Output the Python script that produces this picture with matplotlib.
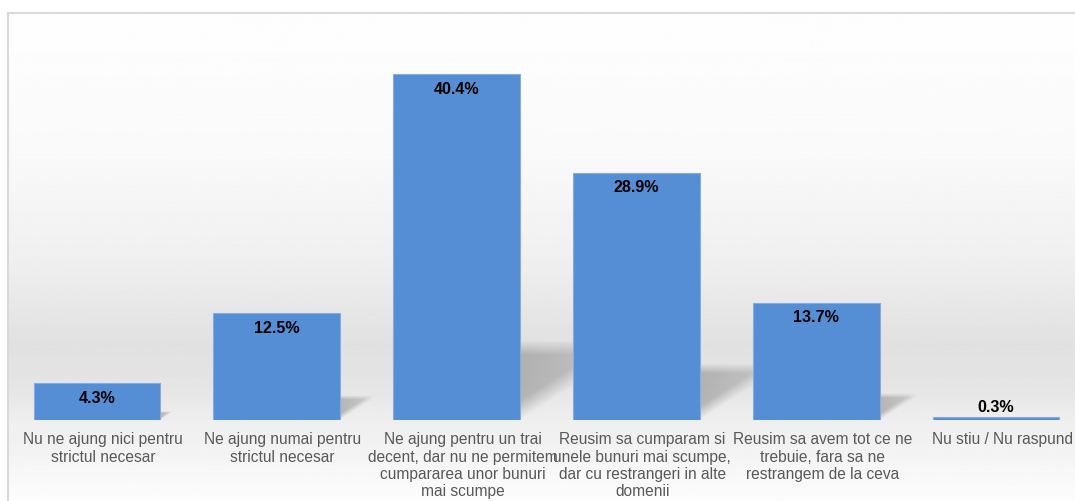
import matplotlib.pyplot as plt
import matplotlib.transforms as mtransforms
import numpy as np
from matplotlib.patches import Polygon
from matplotlib.lines import Line2D

# -----------------------------
#  Data
# -----------------------------
categories = [
    "Nu ne ajung nici pentru\nstrictul necesar",
    "Ne ajung numai pentru\nstrictul necesar",
    "Ne ajung pentru un trai\ndecent, dar nu ne permitem\ncumpararea unor bunuri\nmai scumpe",
    "Reusim sa cumparam si\nunele bunuri mai scumpe,\ndar cu restrangeri in alte\ndomenii",
    "Reusim sa avem tot ce ne\ntrebuie, fara sa ne\nrestrangem de la ceva",
    "Nu stiu / Nu raspund",
]
values = [4.3, 12.5, 40.4, 28.9, 13.7, 0.3]
value_labels = ["4.3%", "12.5%", "40.4%", "28.9%", "13.7%", "0.3%"]

plt.rcParams['font.family'] = ['Liberation Sans', 'DejaVu Sans']

W, H = 1075, 502
fig = plt.figure(figsize=(W / 100, H / 100), dpi=100)
fig.patch.set_facecolor('white')

# -----------------------------
#  Background gradient (wall + floor)
# -----------------------------
bg = fig.add_axes([0, 0, 1, 1], zorder=0)
rows = np.arange(H)
stops_y = [13, 150, 250, 340, 385, 421, 440, 500]
stops_v = [254, 249, 240, 225, 229, 239, 241, 253]
grey = np.interp(rows, stops_y, stops_v) / 255.0
img = np.repeat(grey[:, None], 2, axis=1)
bg.imshow(img, cmap='gray', vmin=0, vmax=1, aspect='auto',
          extent=[7 / W, 1, 0, 1 - 13 / H], origin='upper')
bg.set_xlim(0, 1)
bg.set_ylim(0, 1)
bg.axis('off')

# -----------------------------
#  Bar chart
# -----------------------------
ax = fig.add_axes([7 / W, 81 / H, 1079 / W, 385 / H], zorder=1)
ax.patch.set_alpha(0)
x = np.arange(len(values))
width = 0.705

# soft perspective shadows
px_per_x = 1079 / 6
px_per_y = 385 / 45
n = 80
gx = np.linspace(0, 1, n)[None, :]
gy = np.linspace(1, 0, n)[:, None]  # row 0 = top of shadow
for xi, v in zip(x, values):
    sh = 0.23 * v
    sx = 1.58 * sh * px_per_y / px_per_x
    xr = xi + width / 2
    poly = Polygon([(xi - width / 2, 0), (xr, 0), (xr + sx, sh), (xi - width / 2 + sx, sh)],
                   closed=True, facecolor='none', edgecolor='none', transform=ax.transData)
    ax.add_patch(poly)
    x0, x1 = xr, xr + sx
    # alpha fades with distance from the bar and softens at the edges
    xs = x0 + gx * (x1 - x0)
    ys = gy * sh
    edge_x = xr + ys / sh * sx  # diagonal right edge
    t = np.clip((edge_x - xs) / max(sx, 1e-6), 0, 1)
    soft = np.clip((sh - ys) / (0.18 * sh), 0, 1) * np.clip(t / 0.25, 0, 1)
    alpha = (0.42 - 0.22 * gx) * soft
    rgba = np.zeros((n, n, 4))
    rgba[..., :3] = 0.42
    rgba[..., 3] = alpha
    im = ax.imshow(rgba, extent=[x0, x1, 0, sh], aspect='auto',
                   interpolation='bilinear', zorder=1)
    im.set_clip_path(poly)
ax.set_xlim(-0.5, 5.5)
ax.set_ylim(0, 45)

ax.bar(x, values, width, color='#558ED5', edgecolor='#86ADE2', linewidth=0.8, zorder=2)

for xi, v, lab in zip(x, values, value_labels):
    if v < 1:
        y = v + 1.3
    else:
        y = v - 1.64
    ax.text(xi, y, lab, ha='center', va='center', fontsize=11.6,
            fontweight='bold', color='black', zorder=3)

ax.set_xticks(x)
ax.set_xticklabels(categories, fontsize=11.2, color='#595959')
ax.tick_params(axis='x', length=0, pad=8)
shift = mtransforms.ScaledTranslation(6 / 100, 0, fig.dpi_scale_trans)
for lbl in ax.get_xticklabels():
    lbl.set_transform(lbl.get_transform() + shift)
ax.set_yticks([])
for s in ax.spines.values():
    s.set_visible(False)

# chart border
fig.add_artist(Line2D([7.5 / W, 1], [1 - 13.5 / H, 1 - 13.5 / H], color='#d9d9d9', lw=1.5))
fig.add_artist(Line2D([7.5 / W, 7.5 / W], [0, 1 - 13.5 / H], color='#d9d9d9', lw=1.5))

plt.savefig('out.png', dpi=100)
plt.close()
